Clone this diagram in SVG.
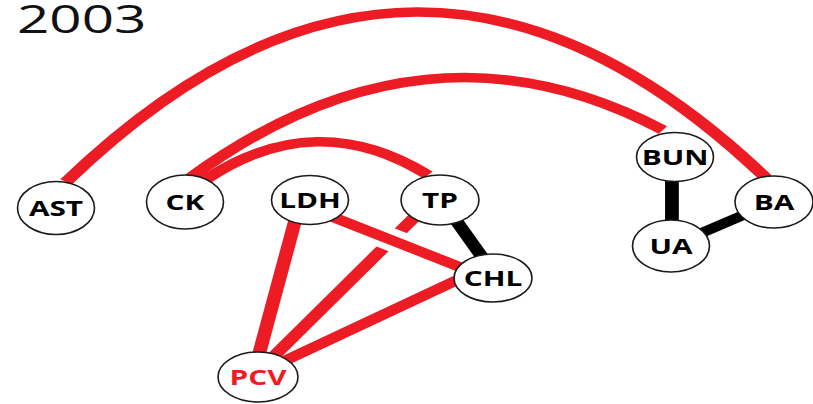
<svg xmlns="http://www.w3.org/2000/svg" width="813" height="404" viewBox="0 0 813 404">
<style>
.r{fill:none;stroke:#ED1C24;stroke-width:9.5}
.k{fill:none;stroke:#000;stroke-width:9.5}
.h{fill:none;stroke:#fff;stroke-width:22}
.n ellipse{fill:#fff;stroke:#1a1a1a;stroke-width:1.6}
.n text{font-family:"Open Sans","DejaVu Sans",sans-serif;font-weight:bold;font-size:21px;text-anchor:middle;fill:#000}
.title{font-family:"Open Sans","DejaVu Sans",sans-serif;font-size:39px;fill:#111}
</style>
<rect width="813" height="404" fill="#fff"/>
<text class="title" transform="translate(17,33) scale(1.45,1)">2003</text>
<g id="connectors" transform="scale(1.45,1)">
<path class="r" d="M45.5,182 Q286.9,-156 528.3,178"/>
<path class="r" d="M131,178 Q293.8,5 457.2,130"/>
<path class="r" d="M141.4,180 Q217.9,106 295.2,175"/>
<line class="r" x1="205.5" y1="210" x2="176.6" y2="365"/>
<line class="r" x1="297.9" y1="200" x2="186.2" y2="360"/>
<line class="r" x1="324.1" y1="274" x2="182.8" y2="370"/>
<line class="h" x1="228" y1="216" x2="320" y2="268"/>
<line class="r" x1="220.7" y1="212" x2="327.6" y2="273"/>
<line class="k" x1="306.9" y1="205" x2="337.9" y2="268"/>
<line class="k" x1="463.4" y1="170" x2="463.4" y2="235"/>
<line class="k" x1="462.8" y1="246" x2="533.8" y2="202"/>
</g>
<g id="AST" class="n"><ellipse cx="56" cy="208" rx="38.5" ry="26.5"/><text transform="translate(56,215.5) scale(1.42,1)">AST</text></g>
<g id="CK" class="n"><ellipse cx="185" cy="202" rx="38.5" ry="27"/><text transform="translate(185,209.5) scale(1.42,1)">CK</text></g>
<g id="LDH" class="n"><ellipse cx="310" cy="200" rx="38.5" ry="24.5"/><text transform="translate(310,207.5) scale(1.42,1)">LDH</text></g>
<g id="TP" class="n"><ellipse cx="440" cy="200" rx="39" ry="25"/><text transform="translate(440,207.5) scale(1.42,1)">TP</text></g>
<g id="CHL" class="n"><ellipse cx="493" cy="278" rx="39" ry="24"/><text transform="translate(493,285.5) scale(1.42,1)">CHL</text></g>
<g id="PCV" class="n"><ellipse cx="258" cy="377" rx="40" ry="25"/><text transform="translate(258,384.5) scale(1.42,1)" style="fill:#ED1C24">PCV</text></g>
<g id="BUN" class="n"><ellipse cx="675" cy="157" rx="38.5" ry="24.5"/><text transform="translate(675,164.5) scale(1.42,1)">BUN</text></g>
<g id="BA" class="n"><ellipse cx="774" cy="202" rx="39" ry="26"/><text transform="translate(774,209.5) scale(1.42,1)">BA</text></g>
<g id="UA" class="n"><ellipse cx="671" cy="246" rx="38.5" ry="26"/><text transform="translate(671,253.5) scale(1.42,1)">UA</text></g>
</svg>
